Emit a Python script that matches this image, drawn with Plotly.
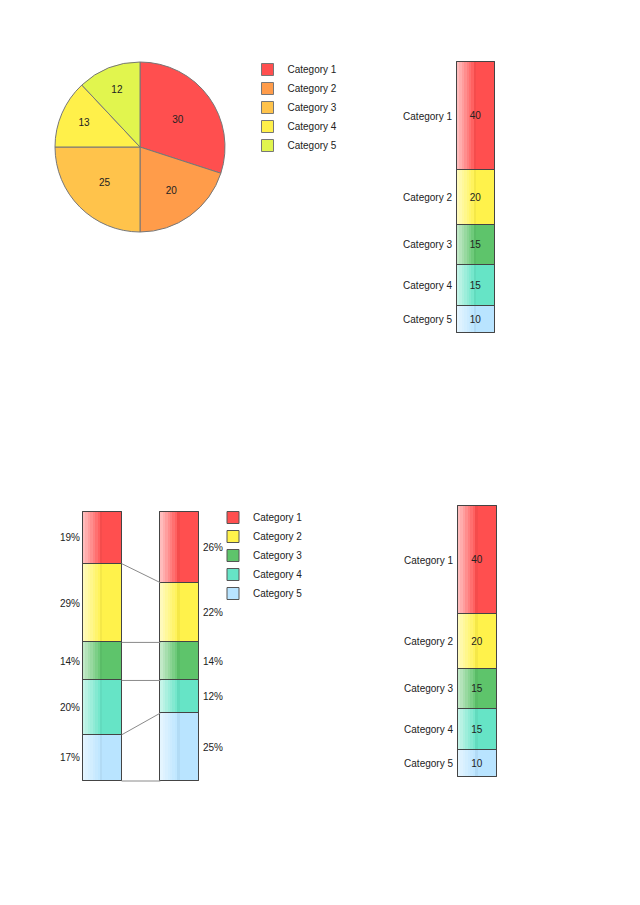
import plotly.graph_objects as go

categories = ["Category 1", "Category 2", "Category 3", "Category 4", "Category 5"]
pie_values = [30, 20, 25, 13, 12]
stack_values = [40, 20, 15, 15, 10]
left_share = [19, 29, 14, 20, 17]
right_share = [26, 22, 14, 12, 25]

pie_colors = ["#FF4F4F", "#FF9C4A", "#FFC34B", "#FFF04A", "#E1F54E"]
bar_colors = ["#FF4F4F", "#FFF24B", "#5EC46B", "#66E4C6", "#B9E4FF"]

PAGE = 8  # body margin of the page
W, H = 640 - PAGE, 905 - PAGE
FONT = "Liberation Sans"
EDGE = "#444444"
STEPS = 8
PAD = 2  # px of room round each plot so the bar outlines are not clipped


def px(x):
    return (x - PAGE) / W


def py(y):
    return 1 - (y - PAGE) / H


def mix(hex_color, white):
    r, g, b = (int(hex_color[i:i + 2], 16) for i in (1, 3, 5))
    if white >= 0:
        r, g, b = (round(c + (255 - c) * white) for c in (r, g, b))
    else:
        r, g, b = (round(c * (1 + white)) for c in (r, g, b))
    return f"rgb({r},{g},{b})"


def frame(left, right, top, bottom, x0, x1):
    # domains and ranges for a plot whose bars fill [x0, x1] x [0, 100]
    ux = PAD * (x1 - x0) / (right - left)
    uy = PAD * 100 / (bottom - top)
    xa = dict(domain=[px(left - PAD), px(right + PAD)], range=[x0 - ux, x1 + ux],
              visible=False, fixedrange=True)
    ya = dict(domain=[py(bottom + PAD), py(top - PAD)], range=[-uy, 100 + uy])
    return xa, ya


def stack(fig, x, vals, bar_w, xa, ya, legend=None, labels=False):
    total = sum(vals)
    shares = [v / total * 100 for v in vals]
    bases = [sum(shares[i + 1:]) for i in range(len(shares))]
    for k, name in enumerate(categories):
        fig.add_trace(go.Bar(
            x=[x], y=[shares[k]], base=[bases[k]], width=bar_w, name=name,
            marker=dict(color=bar_colors[k], line=dict(color="#555555", width=1)),
            showlegend=legend is not None, legend=legend or "legend",
            xaxis=xa, yaxis=ya, hoverinfo="skip"))
    # lighter left half, drawn as thin columns
    sw = bar_w * 0.5 / STEPS
    gx, gy, gb, gc = [], [], [], []
    for j in range(STEPS):
        w = 0.62 - 0.52 * j / (STEPS - 2) if j < STEPS - 1 else -0.04
        for k in range(len(shares)):
            gx.append(x - bar_w / 2 + (j + 0.5) * sw)
            gy.append(shares[k])
            gb.append(bases[k])
            gc.append(mix(bar_colors[k], w))
    fig.add_trace(go.Bar(x=gx, y=gy, base=gb, width=sw,
                         marker=dict(color=gc, line=dict(width=0)),
                         showlegend=False, xaxis=xa, yaxis=ya, hoverinfo="skip"))
    fig.add_trace(go.Bar(
        x=[x] * len(shares), y=shares, base=bases, width=bar_w,
        text=[str(v) for v in vals] if labels else None,
        textposition="inside", insidetextanchor="middle",
        textfont=dict(family=FONT, size=10, color="#222222"),
        marker=dict(color="rgba(0,0,0,0)", line=dict(color=EDGE, width=1)),
        showlegend=False, xaxis=xa, yaxis=ya, hoverinfo="skip"))
    return shares, bases


fig = go.Figure()

# pie
fig.add_trace(go.Pie(
    labels=categories, values=pie_values, sort=False, direction="clockwise",
    rotation=0, textinfo="value", textposition="inside",
    insidetextorientation="horizontal",
    textfont=dict(family=FONT, size=10, color="#222222"),
    marker=dict(colors=pie_colors, line=dict(color="#777777", width=1)),
    domain=dict(x=[px(55), px(225)], y=[py(232), py(62)]),
    legend="legend", hoverinfo="skip"))

# top-right single stack
sh, bs = stack(fig, 0, stack_values, 1, "x2", "y2", labels=True)
mids_single = [b + s / 2 for s, b in zip(sh, bs)]

# bottom-left compare stacks
lsh, lbs = stack(fig, 0, left_share, 0.5, "x3", "y3", legend="legend2")
rsh, rbs = stack(fig, 1, right_share, 0.5, "x3", "y3")
cx, cy = [], []
for k in range(len(categories)):
    cx += [0.25, 0.75, None]
    cy += [lbs[k], rbs[k], None]
fig.add_trace(go.Scatter(x=cx, y=cy, mode="lines", line=dict(color="#8a8a8a", width=1),
                         showlegend=False, xaxis="x3", yaxis="y3", hoverinfo="skip"))
# invisible anchor for right-side labels
fig.add_trace(go.Scatter(x=[None], y=[None], xaxis="x3", yaxis="y4", showlegend=False))

# bottom-right single stack
stack(fig, 0, stack_values, 1, "x5", "y5", labels=True)

tick_font = dict(family=FONT, size=10, color="#222222")
base_y = dict(showgrid=False, zeroline=False, showline=False, ticks="",
              tickfont=tick_font, fixedrange=True)
legend_font = dict(family=FONT, size=10, color="#222222")

x2, y2 = frame(457, 495, 62, 333, -0.5, 0.5)
x3, y3 = frame(83, 199, 512, 781, -0.25, 1.25)
x5, y5 = frame(458, 497, 506, 777, -0.5, 0.5)

fig.update_layout(
    width=W, height=H, margin=dict(l=0, r=0, t=0, b=0),
    paper_bgcolor="white", plot_bgcolor="white",
    barmode="overlay", bargap=0,
    font=dict(family=FONT, size=10, color="#222222"),
    legend=dict(x=px(247.5), y=py(55), xanchor="left", yanchor="top",
                bgcolor="rgba(0,0,0,0)", font=legend_font, tracegroupgap=0, itemwidth=30),
    legend2=dict(x=px(213), y=py(503), xanchor="left", yanchor="top",
                 bgcolor="rgba(0,0,0,0)", font=legend_font, tracegroupgap=0, itemwidth=30),
    xaxis2=dict(anchor="y2", **x2),
    yaxis2=dict(anchor="x2", ticklabelstandoff=2,
                tickvals=mids_single, ticktext=categories, **y2, **base_y),
    xaxis3=dict(anchor="y3", **x3),
    yaxis3=dict(anchor="x3", ticklabelstandoff=0,
                tickvals=[b + s / 2 for s, b in zip(lsh, lbs)],
                ticktext=[f"{v}%" for v in left_share], **y3, **base_y),
    yaxis4=dict(overlaying="y3", side="right", anchor="x3", ticklabelstandoff=1,
                tickvals=[b + s / 2 for s, b in zip(rsh, rbs)],
                ticktext=[f"{v}%" for v in right_share], range=y3["range"], **base_y),
    xaxis5=dict(anchor="y5", **x5),
    yaxis5=dict(anchor="x5", ticklabelstandoff=2,
                tickvals=mids_single, ticktext=categories, **y5, **base_y),
)

fig.write_html("out.html")
